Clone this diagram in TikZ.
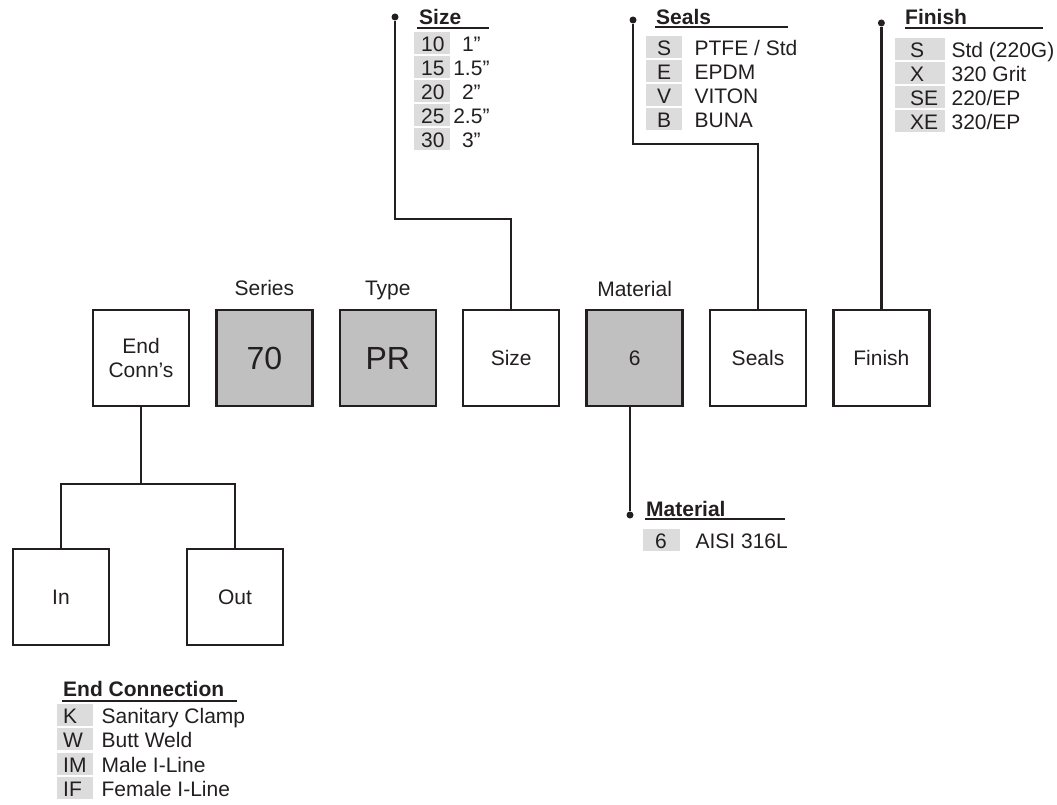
\documentclass[tikz,border=0pt]{standalone}
\usepackage{fontspec}
\setmainfont{Liberation Sans}
\usetikzlibrary{positioning}
\definecolor{ink}{HTML}{231F20}
\definecolor{boxgray}{HTML}{C0C0C0}
\definecolor{cellgray}{HTML}{DCDCDC}
\tikzset{
  wire/.style={draw=ink,line width=2.4pt},
  rule/.style={draw=ink,line width=1.4pt},
  box/.style={draw=ink,line width=2.4pt,minimum width=96pt,minimum height=96pt,inner sep=0pt,align=center},
  greybox/.style={box,fill=boxgray},
  bigtext/.style={font=\fontsize{32}{36}\selectfont},
  dot/.style={circle,fill=ink,inner sep=0pt,minimum size=7pt},
  lbl/.style={anchor=base,inner sep=0pt},
  head/.style={font=\fontsize{21}{24}\selectfont\bfseries,anchor=base west,inner sep=0pt},
  cell/.style={fill=cellgray,anchor=north west,inner ysep=0pt,text height=19.5pt,text depth=2.5pt,align=left},
  sizecell/.style={cell,inner xsep=7pt,text width=22pt},
  sealcell/.style={cell,inner xsep=11pt,text width=14pt},
  fincell/.style={cell,inner xsep=15pt,text width=20pt},
  matcell/.style={cell,inner xsep=12pt,text width=13pt},
  endcell/.style={cell,inner xsep=6pt,text width=24pt},
  item/.style={anchor=base west,inner sep=0pt}
}
\begin{document}
\begin{tikzpicture}[x=1pt,y=-1pt,font=\fontsize{21}{24}\selectfont,text=ink]
\useasboundingbox (0,0) rectangle (1057,805);
% the code boxes
\node[box] (endc) at (141,358) {End\\Conn’s};
\node[greybox,bigtext,right=25pt of endc] (series) {70};
\node[greybox,bigtext,right=25pt of series] (type) {PR};
\node[box,right=25pt of type] (size) {Size};
\node[greybox,right=25pt of size] (material) {6};
\node[box,right=25pt of material] (seals) {Seals};
\node[box,right=25pt of seals] (finish) {Finish};
\node[box] (in) at (61,597) {In};
\node[box] (out) at (235,597) {Out};
\node[lbl] (serieslbl) at (series.north |- 0,295) {Series};
\node[lbl] (typelbl) at (type.north |- 0,295) {Type};
\node[lbl] (materiallbl) at (material.north |- 0,296) {Material};
% connectors
\coordinate (fork) at (141,484);
\draw[wire] (endc.south) -- (fork);
\draw[wire] (in.north) |- (fork) -| (out.north);
\node[dot] (sizedot) at (395,17) {};
\coordinate (sizebend) at (395,219);
\draw[wire] (sizedot) -- (sizebend) -| (size.north);
\node[dot] (sealdot) at (633,20) {};
\coordinate (sealbend) at (633,144);
\draw[wire] (sealdot) -- (sealbend) -| (seals.north);
\node[dot] (findot) at (finish.north |- 0,23) {};
\draw[wire] (findot) -- (finish.north);
\node[dot] (matdot) at (630,515) {};
\draw[wire] (matdot |- material.south) -- (matdot);
% Size
\node[head] (sizehd) at (419,25) {Size};
\draw[rule] (417,28) -- (489,28);
\node[sizecell] (sz1) at (414,32) {10};
\node[lbl,right=21pt of sz1.base east,anchor=base] (sz1t) {1”};
\node[sizecell] (sz2) at (414,56) {15};
\node[lbl,right=21pt of sz2.base east,anchor=base] (sz2t) {1.5”};
\node[sizecell] (sz3) at (414,80) {20};
\node[lbl,right=21pt of sz3.base east,anchor=base] (sz3t) {2”};
\node[sizecell] (sz4) at (414,104) {25};
\node[lbl,right=21pt of sz4.base east,anchor=base] (sz4t) {2.5”};
\node[sizecell] (sz5) at (414,128) {30};
\node[lbl,right=21pt of sz5.base east,anchor=base] (sz5t) {3”};
% Seals
\node[head] (sealhd) at (656,25) {Seals};
\draw[rule] (655,27) -- (788,27);
\node[sealcell] (se1) at (646,36) {S};
\node[item,right=12pt of se1.base east,anchor=base west] (se1t) {PTFE / Std};
\node[sealcell] (se2) at (646,60) {E};
\node[item,right=12pt of se2.base east,anchor=base west] (se2t) {EPDM};
\node[sealcell] (se3) at (646,84) {V};
\node[item,right=12pt of se3.base east,anchor=base west] (se3t) {VITON};
\node[sealcell] (se4) at (646,108) {B};
\node[item,right=12pt of se4.base east,anchor=base west] (se4t) {BUNA};
% Finish
\node[head] (finhd) at (905,25) {Finish};
\draw[rule] (905,28) -- (1043,28);
\node[fincell] (fi1) at (895,38) {S};
\node[item,right=6pt of fi1.base east,anchor=base west] (fi1t) {Std (220G)};
\node[fincell] (fi2) at (895,62) {X};
\node[item,right=6pt of fi2.base east,anchor=base west] (fi2t) {320 Grit};
\node[fincell] (fi3) at (895,86) {SE};
\node[item,right=6pt of fi3.base east,anchor=base west] (fi3t) {220/EP};
\node[fincell] (fi4) at (895,110) {XE};
\node[item,right=6pt of fi4.base east,anchor=base west] (fi4t) {320/EP};
% Material
\node[head] (mathd) at (646,516) {Material};
\draw[rule] (645,519) -- (785,519);
\node[matcell] (ma1) at (643,529) {6};
\node[item,right=15pt of ma1.base east,anchor=base west] (ma1t) {AISI 316L};
% End connection
\node[head] (endhd) at (63,696) {End Connection};
\draw[rule] (62,701) -- (237,701);
\node[endcell] (ec1) at (57,704) {K};
\node[item,right=8pt of ec1.base east,anchor=base west] (ec1t) {Sanitary Clamp};
\node[endcell] (ec2) at (57,728) {W};
\node[item,right=8pt of ec2.base east,anchor=base west] (ec2t) {Butt Weld};
\node[endcell] (ec3) at (57,753) {IM};
\node[item,right=8pt of ec3.base east,anchor=base west] (ec3t) {Male I-Line};
\node[endcell] (ec4) at (57,777) {IF};
\node[item,right=8pt of ec4.base east,anchor=base west] (ec4t) {Female I-Line};
\end{tikzpicture}
\end{document}
